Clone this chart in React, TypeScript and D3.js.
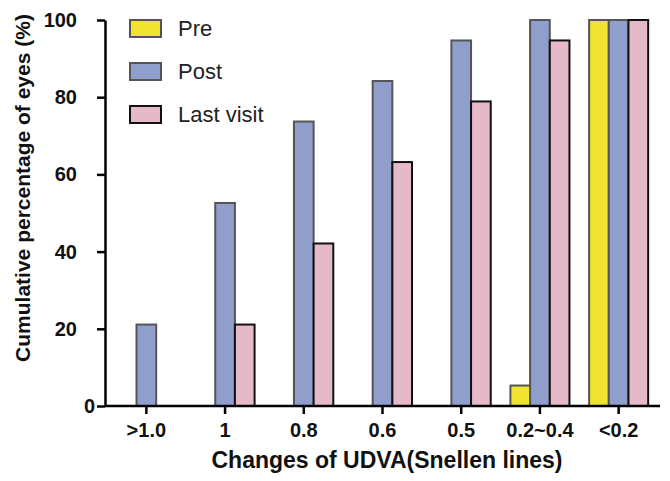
import React, { useEffect, useRef } from "react";
import * as d3 from "d3";

const categories = [">1.0", "1", "0.8", "0.6", "0.5", "0.2~0.4", "<0.2"];
const seriesNames = ["Pre", "Post", "Last visit"];
const preValues = [0, 0, 0, 0, 0, 5.3, 100];
const postValues = [21.1, 52.6, 73.7, 84.2, 94.7, 100, 100];
const lastVisitValues = [0, 21.1, 42.1, 63.2, 78.9, 94.7, 100];
const yTicks = [0, 20, 40, 60, 80, 100];

const fills = ["#F1E430", "#8F9ECB", "#E6B9C8"];
const strokes = ["#555555", "#555555", "#111111"];

export default function App() {
  const ref = useRef<SVGSVGElement | null>(null);

  useEffect(() => {
    document.body.style.margin = "0";
    const svg = d3.select(ref.current);
    svg.selectAll("*").remove();

    const font = "'Liberation Sans', Arial, sans-serif";
    const left = 105, right = 660, top = 20, bottom = 406;

    const x = d3.scaleBand<string>().domain(categories).range([107, 658]).paddingInner(0.25).paddingOuter(0.125);
    const sub = d3.scaleBand<string>().domain(seriesNames).range([0, x.bandwidth()]).padding(0);
    const y = d3.scaleLinear().domain([0, 100]).range([bottom, top]);

    const allSeries = [preValues, postValues, lastVisitValues];

    const g = svg.append("g");
    allSeries.forEach((vals, si) => {
      g.selectAll(null)
        .data(vals.map((v, i) => ({ v, c: categories[i] })).filter((d) => d.v > 0))
        .enter()
        .append("rect")
        .attr("x", (d) => (x(d.c) as number) + (sub(seriesNames[si]) as number))
        .attr("y", (d) => y(d.v))
        .attr("width", sub.bandwidth())
        .attr("height", (d) => y(0) - y(d.v))
        .attr("fill", fills[si])
        .attr("stroke", strokes[si])
        .attr("stroke-width", 2);
    });

    // Y axis
    const yAxis = svg.append("g").attr("transform", `translate(${left},0)`)
      .call(d3.axisLeft(y).tickValues(yTicks).tickSize(8).tickPadding(20).tickSizeOuter(0));
    yAxis.select(".domain").attr("stroke", "#000").attr("stroke-width", 2.5);
    yAxis.selectAll(".tick line").attr("stroke", "#000").attr("stroke-width", 2.5);
    yAxis.selectAll(".tick text")
      .attr("font-family", font).attr("font-size", 20).attr("font-weight", "bold").attr("fill", "#111")
      .attr("x", (d: any) => (d === 0 ? -10 : -28));

    // X axis
    const xAxis = svg.append("g").attr("transform", `translate(0,${bottom})`)
      .call(d3.axisBottom(x).tickSize(8).tickPadding(12).tickSizeOuter(0));
    xAxis.select(".domain").attr("d", `M${left},0H${right}`).attr("stroke", "#000").attr("stroke-width", 2.5);
    xAxis.selectAll(".tick line").attr("stroke", "#000").attr("stroke-width", 2.5);
    xAxis.selectAll(".tick text")
      .attr("font-family", font).attr("font-size", 20).attr("font-weight", "bold").attr("fill", "#111")
      .attr("dy", null).attr("y", 31);

    // Axis titles
    svg.append("text")
      .attr("x", 387).attr("y", 468).attr("text-anchor", "middle")
      .attr("font-family", font).attr("font-size", 23).attr("font-weight", "bold").attr("fill", "#111")
      .text("Changes of UDVA(Snellen lines)");
    svg.append("text")
      .attr("transform", "translate(30,188) rotate(-90)").attr("text-anchor", "middle")
      .attr("font-family", font).attr("font-size", 21).attr("font-weight", "bold").attr("fill", "#111")
      .text("Cumulative percentage of eyes (%)");

    // Legend
    seriesNames.forEach((name, i) => {
      const ly = 20 + i * 43;
      svg.append("rect")
        .attr("x", 130).attr("y", ly).attr("width", 31).attr("height", 17)
        .attr("fill", fills[i]).attr("stroke", strokes[i]).attr("stroke-width", 2);
      svg.append("text")
        .attr("x", 178).attr("y", ly + 16)
        .attr("font-family", font).attr("font-size", 22).attr("fill", "#222")
        .text(name);
    });
  }, []);

  return <svg ref={ref} width={670} height={481} style={{ display: "block", background: "#fff" }} />;
}
